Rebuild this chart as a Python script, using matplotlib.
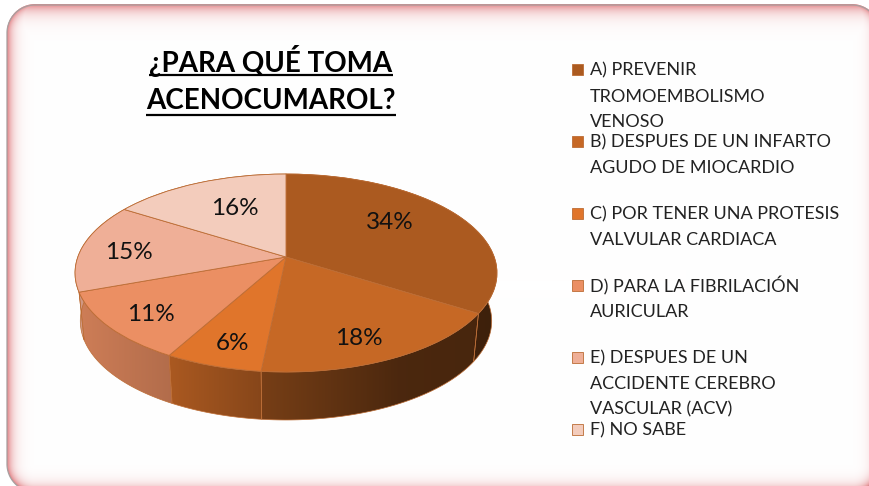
import numpy as np
import matplotlib
matplotlib.use("Agg")
import matplotlib.pyplot as plt
from matplotlib.patches import Polygon, Rectangle
from matplotlib.transforms import Transform
from matplotlib.colors import to_rgb

# ---- data ----
categories = ["A", "B", "C", "D", "E", "F"]
values = [34.0, 17.6, 6.4, 11.4, 14.6, 16.0]
pct_labels = ["34%", "18%", "6%", "11%", "15%", "16%"]
legend_lines = [
    ["A) PREVENIR", "TROMOEMBOLISMO", "VENOSO"],
    ["B) DESPUES DE UN INFARTO", "AGUDO DE MIOCARDIO"],
    ["C) POR TENER UNA PROTESIS", "VALVULAR CARDIACA"],
    ["D) PARA LA FIBRILACIÓN", "AURICULAR"],
    ["E) DESPUES DE UN", "ACCIDENTE CEREBRO", "VASCULAR (ACV)"],
    ["F) NO SABE"],
]
title_lines = ["¿PARA QUÉ TOMA", "ACENOCUMAROL?"]

# ---- style / layout ----
colors = ["#AB5A20", "#C66825", "#E0752B", "#EB8F63", "#EFAF97", "#F3CCBC"]
edge = "#BC6C34"
label_xy = [(390, 222), (359, 338), (233, 343), (151, 314), (129, 252), (235, 208)]
legend_y = [[69, 96, 121], [141, 167], [213, 239], [285, 311], [357, 383, 408], [429]]
W, H = 870, 486
CX, CY, A, B, K = 286, 257, 208.2, 96.4, 0.1616
DEPTH, SHRINK = 48, 0.975
plt.rcParams["font.family"] = ["Lato", "DejaVu Sans"]


class Tilt(Transform):
    """Perspective view of the unit pie, giving canvas pixels."""
    input_dims = output_dims = 2

    def transform_non_affine(self, xy):
        xy = np.asarray(xy, float)
        d = 1 + K * xy[:, 1]
        return np.column_stack([CX + A * xy[:, 0] / d, CY - B * xy[:, 1] / d])


tilt = Tilt()
fig = plt.figure(figsize=(W / 100, H / 100), dpi=100)
ax = fig.add_axes([0, 0, 1, 1])
wedges, _ = ax.pie(values, colors=colors, startangle=90, counterclock=False,
                   wedgeprops=dict(edgecolor=edge, linewidth=0.6))
ax.set_aspect("auto")
ax.set_xlim(0, W)
ax.set_ylim(H, 0)
ax.axis("off")
ax.autoscale(False)
for w in wedges:
    w.set_transform(tilt + ax.transData)
    w.set_zorder(4)

# ---- rounded frame with inner glow ----
x0, y0, x1, y1, rad = 7, 5, 880, 492, 28
yy, xx = np.mgrid[0:H, 0:W] + 0.5
mx, my = (x0 + x1) / 2, (y0 + y1) / 2
qx = np.abs(xx - mx) - ((x1 - x0) / 2 - rad)
qy = np.abs(yy - my) - ((y1 - y0) / 2 - rad)
dist = np.hypot(np.maximum(qx, 0), np.maximum(qy, 0)) + np.minimum(np.maximum(qx, qy), 0) - rad
inside = np.clip(0.5 - dist, 0, 1)
glow = np.exp(-np.maximum(-dist, 0) / 5.5)
glow_top = np.exp(-np.maximum(yy - y0, 0) / 7.5)
glow = np.maximum(glow, glow_top)
tint = np.array(to_rgb("#DE7478"))
rgb = 1 - glow[..., None] * (1 - tint) * 0.95
frame = np.dstack([rgb, inside])
ax.imshow(frame, extent=(0, W, H, 0), aspect="auto", zorder=0, interpolation="nearest")
t = np.linspace(0, 2 * np.pi, 400)
qq = rad * np.column_stack([np.cos(t), np.sin(t)])
qq = qq + np.column_stack([np.where(np.cos(t) > 0, x1 - rad, x0 + rad),
                           np.where(np.sin(t) > 0, y1 - rad, y0 + rad)])
ax.add_patch(Polygon(qq, closed=True, fill=False, edgecolor="#A8A0A0", linewidth=0.9, zorder=1))

# ---- side wall of the pie, shaded by x ----
cum = np.concatenate([[0], np.cumsum(values)]) / np.sum(values) * 2 * np.pi
shade_x = [76, 170, 262, 400, 498]
shade_v = [0.88, 0.76, 0.60, 0.38, 0.36]
gx = np.arange(W) + 0.5
shade = np.interp(gx, shade_x, shade_v)
for i, col in enumerate(colors):
    th = np.linspace(cum[i], cum[i + 1], 90)
    top = tilt.transform_non_affine(np.column_stack([np.sin(th), np.cos(th)]))
    bot = np.column_stack([CX + (top[:, 0] - CX) * SHRINK, top[:, 1] + DEPTH])
    poly = Polygon(np.vstack([top, bot[::-1]]), closed=True, facecolor="none",
                   edgecolor=edge, linewidth=0.5, zorder=2.5)
    ax.add_patch(poly)
    grad = np.array(to_rgb(col))[None, None, :] * shade[None, :, None]
    im = ax.imshow(grad, extent=(0, W, H, 0), aspect="auto", zorder=2, interpolation="bilinear")
    im.set_clip_path(poly)

# ---- labels ----
for s, (x, y) in zip(pct_labels, label_xy):
    ax.text(x, y, s, ha="center", va="center", fontsize=17.5, color="#111111", zorder=6)

# ---- title, underlined by its own measured extent ----
fig.canvas.draw()
rend = fig.canvas.get_renderer()
for s, yc, yu in zip(title_lines, [61, 101], [75.5, 115.5]):
    t_ = ax.text(271, yc, s, ha="center", va="center", fontsize=20, fontweight="bold",
                 color="black", zorder=6)
    bb = t_.get_window_extent(rend)
    ax.plot([bb.x0, bb.x1], [yu, yu], color="black", lw=1.6, solid_capstyle="butt", zorder=6)

# ---- legend ----
for lines, ys, col in zip(legend_lines, legend_y, colors):
    ax.add_patch(Rectangle((572, ys[0] - 5), 11, 11, facecolor=col, edgecolor=edge, linewidth=0.6, zorder=5))
    for s, y in zip(lines, ys):
        ax.text(590, y + 1, s, ha="left", va="center", fontsize=13, color="#222222", zorder=6)

fig.savefig("out.png", dpi=100)
